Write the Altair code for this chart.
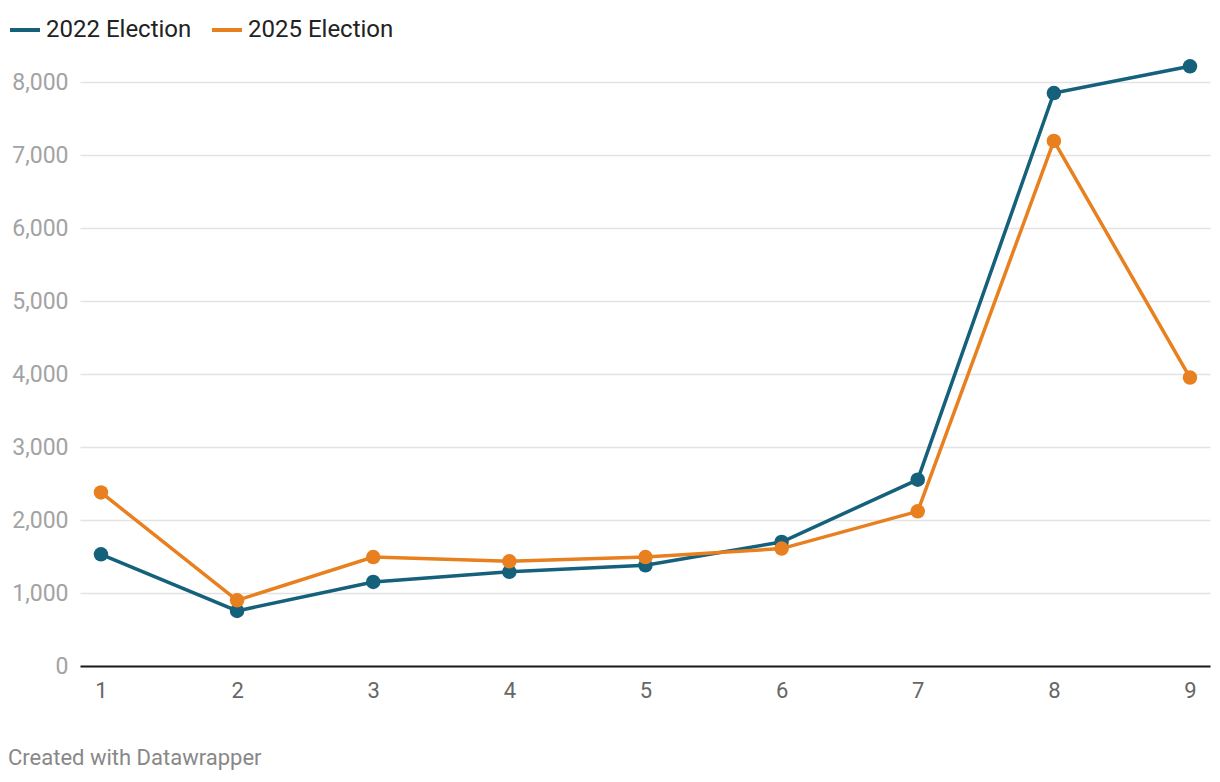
import altair as alt
import pandas as pd

positions = [1, 2, 3, 4, 5, 6, 7, 8, 9]
votes_2022 = [1530, 755, 1151, 1290, 1380, 1699, 2553, 7849, 8215]
votes_2025 = [2378, 900, 1493, 1434, 1493, 1608, 2119, 7192, 3951]
series_names = ["2022 Election", "2025 Election"]
series_colors = ["#15607a", "#e8801f"]
y_ticks = [0, 1000, 2000, 3000, 4000, 5000, 6000, 7000, 8000]

rows = []
for p, v in zip(positions, votes_2022):
    rows.append({"pos": p, "value": v, "series": series_names[0]})
for p, v in zip(positions, votes_2025):
    rows.append({"pos": p, "value": v, "series": series_names[1]})
df = pd.DataFrame(rows)

FONT = "Roboto"

x = alt.X(
    "pos:Q",
    scale=alt.Scale(domain=[0.846, 9.147], nice=False, zero=False),
    axis=alt.Axis(
        values=positions, title=None, grid=False, ticks=False,
        domain=True, domainColor="#1a1a1a", domainWidth=2,
        labelFont=FONT, labelFontSize=22, labelColor="#666666",
        labelPadding=14, format="d",
    ),
)
y = alt.Y(
    "value:Q",
    scale=alt.Scale(domain=[0, 8000], nice=False),
    axis=alt.Axis(
        values=y_ticks, title=None, grid=True, gridColor="#e3e3e3", gridWidth=1.5,
        ticks=False, domain=False, labelFont=FONT, labelFontSize=23,
        labelColor="#a3a3a3", labelPadding=12, format=",d",
    ),
)
color_scale = alt.Scale(domain=series_names, range=series_colors)

lines = alt.Chart(df).mark_line(strokeWidth=3.5, clip=False).encode(
    x=x, y=y,
    color=alt.Color(
        "series:N", scale=color_scale,
        legend=alt.Legend(
            title=None, orient="none", legendX=-72, legendY=-69,
            direction="horizontal", symbolType="stroke", symbolStrokeWidth=4,
            symbolSize=900, labelFont=FONT, labelFontSize=24, labelColor="#222222",
            columnPadding=12, labelOffset=4,
        ),
    ),
)
points = alt.Chart(df).mark_point(filled=True, size=210, opacity=1, clip=False).encode(
    x=x, y=y,
    color=alt.Color("series:N", scale=color_scale, legend=None),
)

chart = (
    alt.layer(lines, points)
    .properties(
        width=1130, height=584,
        padding={"left": 72, "top": 74, "right": 2, "bottom": 106},
        autosize=alt.AutoSizeParams(type="none"),
        background="white",
        title=alt.TitleParams(
            "Created with Datawrapper", orient="bottom", anchor="start",
            frame="bounds", font=FONT, fontSize=22, fontWeight="normal",
            color="#888888", offset=47,
        ),
    )
    .configure_view(stroke=None)
)

chart.save("out.html", embed_options={"renderer": "svg", "actions": False})
